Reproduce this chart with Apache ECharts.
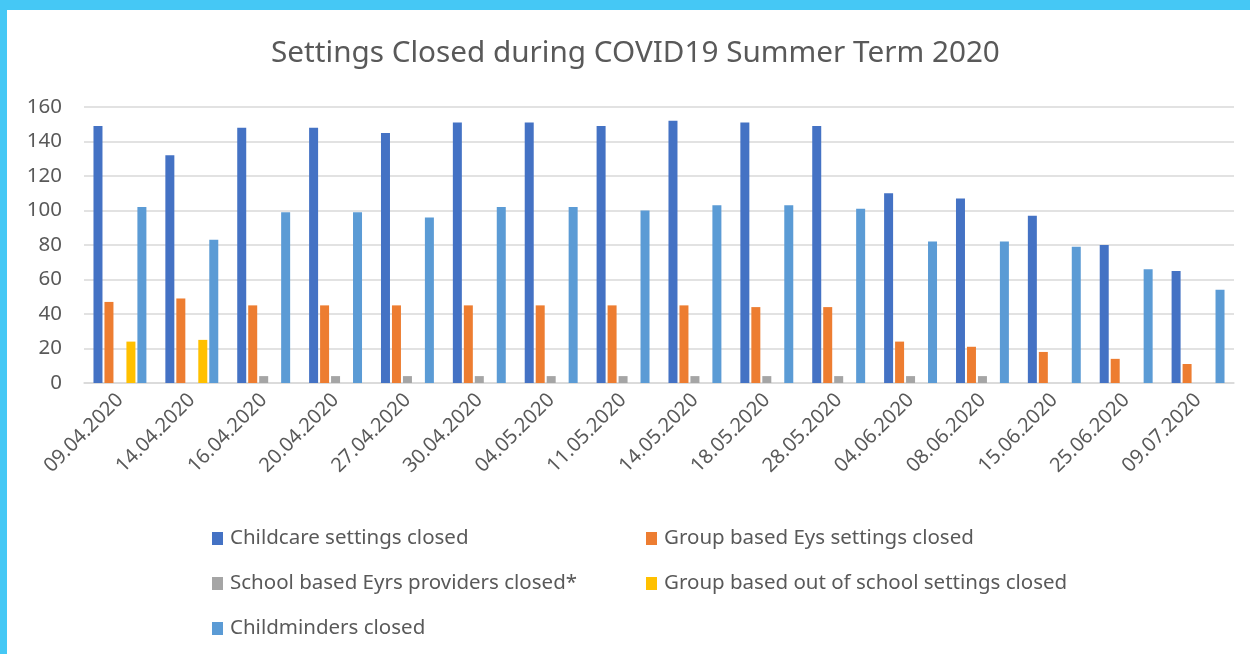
<!DOCTYPE html>
<html>
<head>
    <meta charset="UTF-8">
    <script src="https://cdn.jsdelivr.net/npm/echarts@6/dist/echarts.min.js"></script>
    <title>Settings Closed during COVID19 Summer Term 2020</title>
    <style>
        html, body { margin: 0; padding: 0; }
        body { width: 1250px; height: 654px; background: #45C8F5; position: relative; overflow: hidden; }
        #box { position: absolute; left: 7px; top: 10px; width: 1243px; height: 644px; background: #fff; }
    </style>
</head>
<body>
    <div id="box"></div>
    <script>
        var dates = ['09.04.2020', '14.04.2020', '16.04.2020', '20.04.2020', '27.04.2020', '30.04.2020',
            '04.05.2020', '11.05.2020', '14.05.2020', '18.05.2020', '28.05.2020', '04.06.2020',
            '08.06.2020', '15.06.2020', '25.06.2020', '09.07.2020'];
        var childcare = [149, 132, 148, 148, 145, 151, 151, 149, 152, 151, 149, 110, 107, 97, 80, 65];
        var groupEys = [47, 49, 45, 45, 45, 45, 45, 45, 45, 44, 44, 24, 21, 18, 14, 11];
        var schoolEyrs = [null, null, 4, 4, 4, 4, 4, 4, 4, 4, 4, 4, 4, null, null, null];
        var outOfSchool = [24, 25, null, null, null, null, null, null, null, null, null, null, null, null, null, null];
        var childminders = [102, 83, 99, 99, 96, 102, 102, 100, 103, 103, 101, 82, 82, 79, 66, 54];
        var yTicks = { min: 0, max: 160, step: 20 };

        var names = ['Childcare settings closed', 'Group based Eys settings closed',
            'School based Eyrs providers closed*', 'Group based out of school settings closed',
            'Childminders closed'];
        var colors = ['#4472C4', '#ED7D31', '#A5A5A5', '#FFC000', '#5B9BD5'];
        var values = [childcare, groupEys, schoolEyrs, outOfSchool, childminders];

        var font = '"Noto Sans", sans-serif';
        var mychart = echarts.init(document.getElementById('box'));

        // legend: 2 columns, 3 rows
        var legendPos = [[200, 513], [634, 513], [200, 558], [634, 558], [200, 603]];
        var legends = names.map(function (n, i) {
            return {
                data: [n],
                left: legendPos[i][0],
                top: legendPos[i][1],
                icon: 'rect',
                itemWidth: 11,
                itemHeight: 13,
                itemGap: 0,
                textStyle: { fontFamily: font, fontSize: 20.5, color: '#595959', padding: [0, 0, 0, 2] }
            };
        });

        var option = {
            animation: false,
            color: colors,
            title: {
                text: 'Settings Closed during COVID19 Summer Term 2020',
                left: 259,
                top: 24,
                textStyle: { fontFamily: font, fontSize: 29.7, fontWeight: 'normal', color: '#595959' }
            },
            legend: legends,
            grid: { left: 77, right: 16, top: 97, bottom: 271, containLabel: false },
            xAxis: {
                type: 'category',
                data: dates,
                axisLine: { lineStyle: { color: '#D9D9D9', width: 1.5 } },
                axisTick: { show: false },
                axisLabel: {
                    rotate: 45, interval: 0, margin: 14,
                    fontFamily: font, fontSize: 20, color: '#595959'
                }
            },
            yAxis: {
                type: 'value',
                min: yTicks.min, max: yTicks.max, interval: yTicks.step,
                axisLine: { show: false },
                axisTick: { show: false },
                splitLine: { lineStyle: { color: '#D9D9D9', width: 1.5 } },
                axisLabel: { margin: 22, fontFamily: font, fontSize: 20.5, color: '#595959' }
            },
            series: names.map(function (n, i) {
                return {
                    name: n,
                    type: 'bar',
                    data: values[i],
                    barWidth: 9,
                    barGap: '22%',
                    itemStyle: { color: colors[i] }
                };
            })
        };

        mychart.setOption(option);
    </script>
</body>
</html>
